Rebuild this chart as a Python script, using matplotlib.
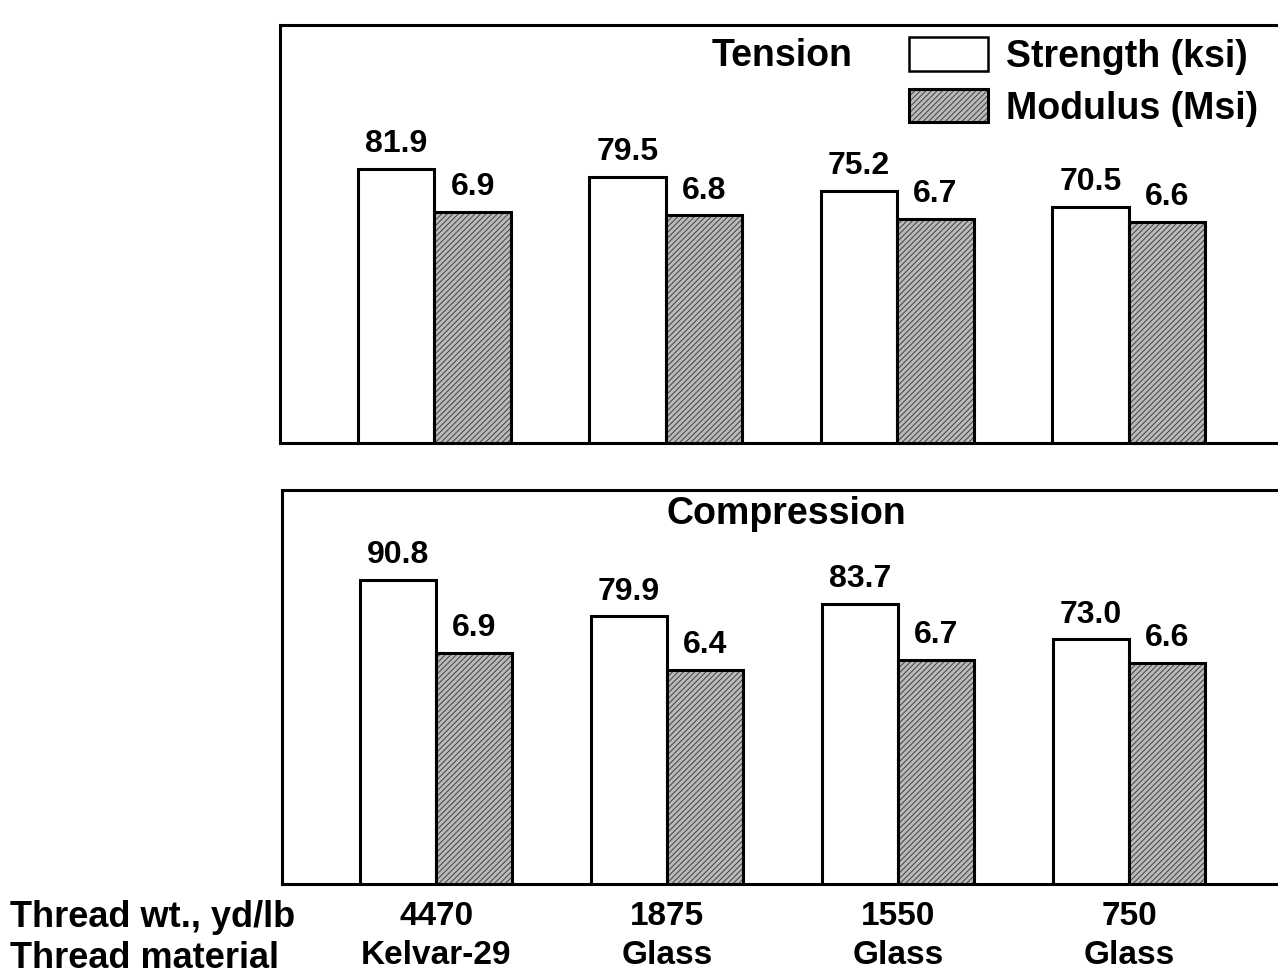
import matplotlib
matplotlib.use("Agg")
import matplotlib.pyplot as plt
from matplotlib.patches import Patch
from matplotlib.legend_handler import HandlerTuple
import numpy as np

plt.rcParams['font.family'] = ['Liberation Sans', 'DejaVu Sans']
plt.rcParams['font.weight'] = 'bold'
plt.rcParams['hatch.linewidth'] = 0.7

# Thread variants
thread_wt = ["4470", "1875", "1550", "750"]
thread_material = ["Kelvar-29", "Glass", "Glass", "Glass"]

# Tension results
tension_strength = [81.9, 79.5, 75.2, 70.5]   # ksi
tension_modulus = [6.9, 6.8, 6.7, 6.6]        # Msi

# Compression results
compression_strength = [90.8, 79.9, 83.7, 73.0]  # ksi
compression_modulus = [6.9, 6.4, 6.7, 6.6]       # Msi

STIPPLE_FACE = '#bababa'
STIPPLE_LINE = '#404040'
EDGE_W = 2.2
BAR_W = 0.33
LABEL_FS = 23

fig = plt.figure(figsize=(12.78, 9.76), dpi=100)

W, H = 1278.0, 976.0
ax_top = fig.add_axes([280 / W, 1 - 443 / H, 1 - 280 / W, (443 - 25) / H])
ax_bot = fig.add_axes([282 / W, 1 - 884 / H, 1 - 282 / W, (884 - 490) / H])


def panel(ax, strength, modulus, ymax):
    x = np.arange(len(strength))
    ax2 = ax.twinx()
    ax.set_ylim(0, ymax)
    ax2.set_ylim(0, ymax / 10.0)  # modulus axis: 1 Msi drawn like 10 ksi
    ax.set_xlim(-0.667, 3.645)

    # strength bars (open)
    sb = ax.bar(x - BAR_W / 2, strength, BAR_W, facecolor='white',
                edgecolor='black', linewidth=EDGE_W, zorder=3)
    # modulus bars (stippled)
    ax2.bar(x + BAR_W / 2, modulus, BAR_W, facecolor=STIPPLE_FACE,
            edgecolor=STIPPLE_LINE, hatch='//////', linewidth=0, zorder=2)
    mb = ax2.bar(x + BAR_W / 2, modulus, BAR_W, facecolor='none',
                 edgecolor='black', linewidth=EDGE_W, zorder=3)

    for rect, v in zip(sb, strength):
        ax.annotate(f"{v:.1f}", (rect.get_x() + rect.get_width() / 2, v),
                    xytext=(0, 7), textcoords='offset points',
                    ha='center', va='bottom', fontsize=LABEL_FS, fontweight='bold')
    for rect, v in zip(mb, modulus):
        ax2.annotate(f"{v:.1f}", (rect.get_x() + rect.get_width() / 2, v),
                     xytext=(0, 7), textcoords='offset points',
                     ha='center', va='bottom', fontsize=LABEL_FS, fontweight='bold')

    for a in (ax, ax2):
        a.set_yticks([])
        a.tick_params(left=False, right=False, labelleft=False, labelright=False)
        a.spines['right'].set_visible(False)
    for s in ('left', 'top', 'bottom'):
        ax.spines[s].set_linewidth(2.2)
        ax2.spines[s].set_visible(False)
    return ax2


panel(ax_top, tension_strength, tension_modulus, 124.8)
panel(ax_bot, compression_strength, compression_modulus, 117.6)

ax_top.text(0.503, 0.925, "Tension", transform=ax_top.transAxes,
            ha='center', va='center', fontsize=27, fontweight='bold')
ax_bot.text(0.506, 0.94, "Compression", transform=ax_bot.transAxes,
            ha='center', va='center', fontsize=27, fontweight='bold')

ax_top.set_xticks([])
ax_bot.set_xticks(np.arange(len(thread_wt)))
ax_bot.set_xticklabels([f"{w}\n{m}" for w, m in zip(thread_wt, thread_material)],
                       fontsize=24, fontweight='bold', linespacing=1.35)
ax_bot.tick_params(axis='x', length=0, pad=12)

fig.text(10 / W, 1 - 900 / H, "Thread wt., yd/lb\nThread material",
         ha='left', va='top', fontsize=26, fontweight='bold', linespacing=1.22)

# legend
h_strength = Patch(facecolor='white', edgecolor='black', linewidth=1.8)
h_mod_fill = Patch(facecolor=STIPPLE_FACE, edgecolor=STIPPLE_LINE, hatch='//////', linewidth=0)
h_mod_edge = Patch(facecolor='none', edgecolor='black', linewidth=2.2)
ax_top.legend([h_strength, (h_mod_fill, h_mod_edge)],
              ["Strength (ksi)", "Modulus (Msi)"],
              handler_map={tuple: HandlerTuple(ndivide=1, pad=0)},
              loc='upper right', bbox_to_anchor=(1.003, 1.025),
              frameon=False, handlelength=2.1, handleheight=1.0,
              handletextpad=0.5, labelspacing=0.38, borderpad=0.1,
              prop={'weight': 'bold', 'size': 27})

fig.savefig("out.png", dpi=100)
